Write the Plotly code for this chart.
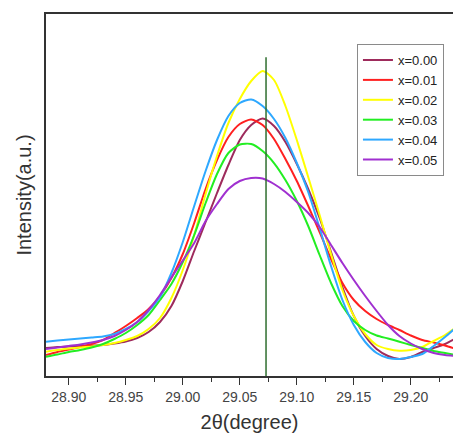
import plotly.graph_objects as go

# 2theta grid (degree)
two_theta = [28.88, 28.89, 28.90, 28.91, 28.92, 28.93, 28.94, 28.95, 28.96, 28.97,
             28.98, 28.99, 29.00, 29.01, 29.02, 29.03, 29.04, 29.05, 29.06, 29.07,
             29.08, 29.09, 29.10, 29.11, 29.12, 29.13, 29.14, 29.15, 29.16, 29.17,
             29.18, 29.19, 29.20, 29.21, 29.22, 29.23, 29.24]

series_names = ["x=0.00", "x=0.01", "x=0.02", "x=0.03", "x=0.04", "x=0.05"]

intensity_x000 = [28, 29, 29.5, 30, 30.5, 31, 32.5, 34.5, 38, 44,
                  54, 70, 95, 125, 154, 183, 211, 236, 251, 257.5,
                  250, 234, 212, 187, 158, 124, 89, 60, 40, 27,
                  20, 17, 19, 24, 28, 32, 38]
intensity_x001 = [21, 24, 26.5, 29, 32, 36, 43, 50, 58, 67,
                  80, 98, 122, 153, 187, 216, 239, 252, 256.5, 251,
                  237, 217, 195, 170, 144, 117, 93, 76, 65, 57,
                  51, 46, 40.5, 36, 33.5, 30.5, 27]
intensity_x002 = [24.3, 26, 27.5, 28.5, 29.5, 31, 33, 36, 40, 47,
                  58, 78, 106, 141, 182, 220, 253, 277, 295, 305,
                  296, 270, 236, 199, 161, 122, 86, 60, 42, 31,
                  27, 25.3, 26, 29, 35, 41, 49]
intensity_x003 = [19.3, 21.5, 24, 26, 28.5, 32, 37, 43, 51, 61,
                  76, 92, 114, 141, 173, 202, 223, 231.5, 232, 225,
                  213, 196, 175, 150, 121, 93, 70, 55, 46, 40.5,
                  37.5, 34.3, 31, 28, 25, 23, 21]
intensity_x004 = [34.3, 35.5, 36.5, 37.5, 38.5, 39.5, 42, 47, 54, 65,
                  79, 103, 134, 170, 205, 236, 260, 273, 276.5, 270,
                  257, 238, 213, 184, 148, 110, 76, 51, 34, 23,
                  18, 17, 19, 22, 30, 39, 49]
intensity_x005 = [27, 28.5, 30, 31.5, 33.5, 36, 40, 46, 54, 66,
                  81, 98.5, 115.5, 133, 155, 172, 187, 195, 198, 197.5,
                  192, 184, 174, 163, 149, 131, 113, 96, 80, 65,
                  51, 40, 32.5, 27, 23, 21, 20]

series_values = [intensity_x000, intensity_x001, intensity_x002,
                 intensity_x003, intensity_x004, intensity_x005]
series_colors = ["#9e2b5c", "#ff2020", "#ffff00", "#22ee22", "#2ea8ff", "#a030d0"]

# reference vertical line
ref_line_x = [29.073, 29.073]
ref_line_y = [0, 318.7]

x_tick_vals = [28.90, 28.95, 29.00, 29.05, 29.10, 29.15, 29.20]
x_tick_text = ["28.90", "28.95", "29.00", "29.05", "29.10", "29.15", "29.20"]

fig = go.Figure()
for name, vals, col in zip(series_names, series_values, series_colors):
    fig.add_trace(go.Scatter(x=two_theta, y=vals, name=name, mode="lines",
                             line=dict(color=col, width=2, shape="spline", smoothing=0.7)))

fig.add_trace(go.Scatter(x=ref_line_x, y=ref_line_y, mode="lines", showlegend=False,
                         line=dict(color="#2f6e2f", width=1.5), hoverinfo="skip"))

fig.update_layout(
    width=453, height=433,
    margin=dict(l=46, r=0, t=14, b=57, autoexpand=False),
    paper_bgcolor="white", plot_bgcolor="white",
    font=dict(family="Liberation Sans, Arial, sans-serif", color="#333333"),
    showlegend=True,
    legend=dict(x=0.764, y=0.917, xanchor="left", yanchor="top",
                bgcolor="white", bordercolor="#8a8a8a", borderwidth=1,
                font=dict(size=13, color="#222222"), itemwidth=30,
                tracegroupgap=0),
)
fig.update_xaxes(
    range=[28.880, 29.237], showgrid=False, zeroline=False, automargin=False,
    tickvals=x_tick_vals, ticktext=x_tick_text,
    ticks="outside", ticklen=7, tickwidth=1.2, tickcolor="#333333",
    minor=dict(ticks="outside", ticklen=4, tickwidth=1, tickcolor="#333333", dtick=0.025),
    tickfont=dict(size=14, color="#444444"),
    showline=True, linecolor="#333333", linewidth=1.5, mirror=True,
    title=dict(text="2θ(degree)", font=dict(size=20, color="#333333"), standoff=13),
)
fig.update_yaxes(
    range=[0, 362], showgrid=False, zeroline=False, showticklabels=False, ticks="",
    automargin=False,
    showline=True, linecolor="#333333", linewidth=1.5,
    title=dict(text="Intensity(a.u.)", font=dict(size=20, color="#333333"), standoff=7),
)

fig.write_html("out.html", config={"displayModeBar": False},
               post_script="document.body.style.margin='0';document.body.style.padding='0';")
